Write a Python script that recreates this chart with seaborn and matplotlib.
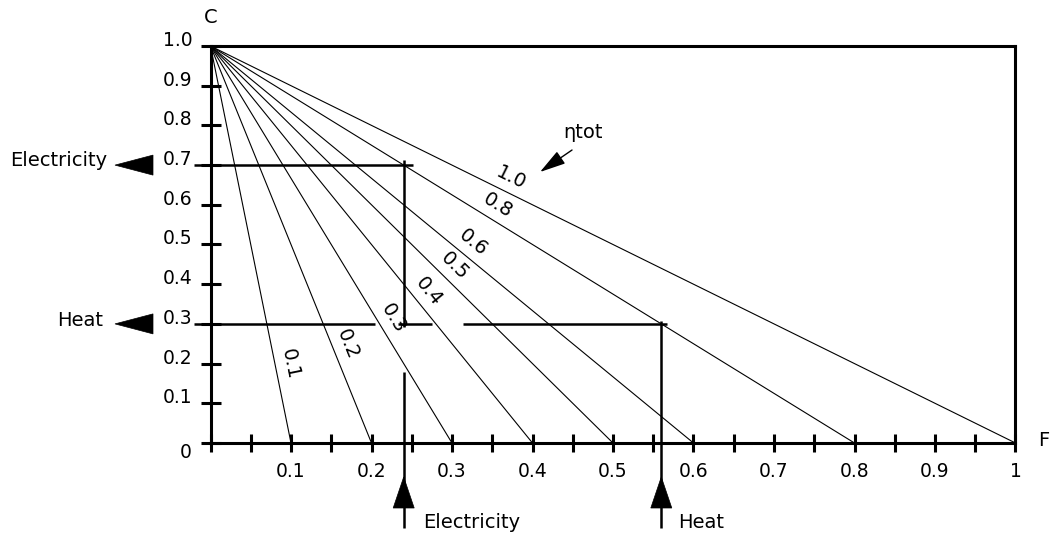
import numpy as np
import pandas as pd
import matplotlib
matplotlib.use("Agg")
import matplotlib.pyplot as plt
import matplotlib.transforms as mtransforms
from matplotlib.patches import Polygon
import seaborn as sns

# ---------------- data ----------------
eta_values = [0.1, 0.2, 0.3, 0.4, 0.5, 0.6, 0.8, 1.0]
eta_labels = ["0.1", "0.2", "0.3", "0.4", "0.5", "0.6", "0.8", "1.0"]
x_ticks = [0.0, 0.05, 0.1, 0.15, 0.2, 0.25, 0.3, 0.35, 0.4, 0.45, 0.5,
           0.55, 0.6, 0.65, 0.7, 0.75, 0.8, 0.85, 0.9, 0.95, 1.0]
x_tick_labels = ["", "", "0.1", "", "0.2", "", "0.3", "", "0.4", "", "0.5",
                 "", "0.6", "", "0.7", "", "0.8", "", "0.9", "", "1"]
y_ticks = [0.0, 0.1, 0.2, 0.3, 0.4, 0.5, 0.6, 0.7, 0.8, 0.9, 1.0]
y_tick_labels = ["", "0.1", "0.2", "0.3", "0.4", "0.5", "0.6", "0.7", "0.8", "0.9", "1.0"]
electricity_C = 0.7
heat_C = 0.3
electricity_F = 0.24
heat_F = 0.56

# ---------------- style ----------------
sns.set_theme(style="white")
plt.rcParams["font.family"] = ["DejaVu Sans"]
plt.rcParams["text.color"] = "black"

W, H = 1051, 537
fig = plt.figure(figsize=(W / 100, H / 100), dpi=100)
fig.patch.set_facecolor("white")
ax = fig.add_axes([210.5 / W, 94 / H, 805 / W, 397 / H])
ax.set_facecolor("white")

df = pd.DataFrame({
    "eta": np.repeat(eta_values, 2),
    "F": [v for e in eta_values for v in (0.0, e)],
    "C": [v for e in eta_values for v in (1.0, 0.0)],
})
sns.lineplot(data=df, x="F", y="C", units="eta", estimator=None, sort=False,
             color="black", linewidth=0.8, ax=ax)
ax.set_xlabel("")
ax.set_ylabel("")
ax.set_xlim(0, 1)
ax.set_ylim(0, 1)

for s in ax.spines.values():
    s.set_visible(True)
    s.set_color("black")
    s.set_linewidth(2.2)

ax.set_xticks(x_ticks)
ax.set_xticklabels(x_tick_labels)
ax.set_yticks(y_ticks)
ax.set_yticklabels(y_tick_labels)
ax.tick_params(axis="x", direction="inout", length=13, width=2.2, pad=7,
               labelsize=13.5, color="black", labelcolor="black", bottom=True)
ax.tick_params(axis="y", direction="inout", length=14.4, width=2.2, pad=6,
               labelsize=13.5, color="black", labelcolor="black", left=True)
for lab in ax.get_yticklabels():
    lab.set_va("baseline")

# ---------------- eta labels along lines ----------------
p0 = ax.transData.transform((0, 1))
inv = ax.transData.inverted()
for e, lab in zip(eta_values, eta_labels):
    p1 = ax.transData.transform((e, 0))
    u = (p1 - p0) / np.hypot(*(p1 - p0))
    n = np.array([-u[1], u[0]])
    c = p0 + 328 * u + 15 * n
    cx, cy = inv.transform(c)
    ang = np.degrees(np.arctan2(u[1], u[0]))
    ax.text(cx, cy, lab, rotation=ang, rotation_mode="anchor", ha="center",
            va="center", fontsize=14)

# ---------------- electricity / heat construction lines ----------------
LW = 1.8
kw = dict(color="black", lw=LW, clip_on=False, solid_capstyle="butt")
# horizontal lines
ax.plot([-0.0205, electricity_F + 0.0116], [electricity_C, electricity_C], **kw)
for a, b in [(-0.0205, 0.204), (0.233, 0.275), (0.314, heat_F + 0.007)]:
    ax.plot([a, b], [heat_C, heat_C], **kw)
# vertical lines
ax.plot([electricity_F, electricity_F], [electricity_C + 0.013, heat_C - 0.008], **kw)
ax.plot([electricity_F, electricity_F], [0.179, -0.214], **kw)
ax.plot([heat_F, heat_F], [heat_C + 0.008, -0.214], **kw)


def triangle(anchor, verts_px):
    tr = fig.dpi_scale_trans + mtransforms.ScaledTranslation(anchor[0], anchor[1], ax.transData)
    poly = Polygon(np.array(verts_px) / 100.0, closed=True, transform=tr,
                   facecolor="black", edgecolor="black", lw=0.5, clip_on=False)
    ax.add_patch(poly)


# left arrows (pointing left)
for cval in (electricity_C, heat_C):
    triangle((0, cval), [(-95.5, 0), (-57.5, 10), (-57.5, -10)])
# bottom arrows (pointing up)
for fval in (electricity_F, heat_F):
    triangle((fval, 0), [(0, -34), (10.5, -65), (-10.5, -65)])

# labels
txt = dict(fontsize=14, color="black", annotation_clip=False)
ax.annotate("Electricity", xy=(0, electricity_C), xytext=(-103.5, -1),
            textcoords="offset pixels", ha="right", va="baseline", **txt)
ax.annotate("Heat", xy=(0, heat_C), xytext=(-107.5, -2),
            textcoords="offset pixels", ha="right", va="baseline", **txt)
ax.annotate("Electricity", xy=(electricity_F, 0), xytext=(19, -85),
            textcoords="offset pixels", ha="left", va="baseline", **txt)
ax.annotate("Heat", xy=(heat_F, 0), xytext=(17, -85),
            textcoords="offset pixels", ha="left", va="baseline", **txt)
ax.annotate("0", xy=(0, 0), xytext=(-18.5, 0), textcoords="offset pixels",
            ha="right", va="top", fontsize=13.5, annotation_clip=False)
ax.annotate("C", xy=(0, 1), xytext=(0, 28.5), textcoords="offset pixels",
            ha="center", va="center", **txt)
ax.annotate("F", xy=(1, 0), xytext=(23, 3), textcoords="offset pixels",
            ha="left", va="center", **txt)

# eta_tot pointer
ax.text(0.4627, 0.783, "ηtot", ha="center", va="center", fontsize=14)
ax.annotate("", xy=(0.4093, 0.6826), xytext=(0.4491, 0.738),
            arrowprops=dict(arrowstyle="-|>,head_length=1.6,head_width=0.45",
                            mutation_scale=10, color="black", lw=1.0,
                            shrinkA=0, shrinkB=0))

fig.savefig("out.png", dpi=100)
